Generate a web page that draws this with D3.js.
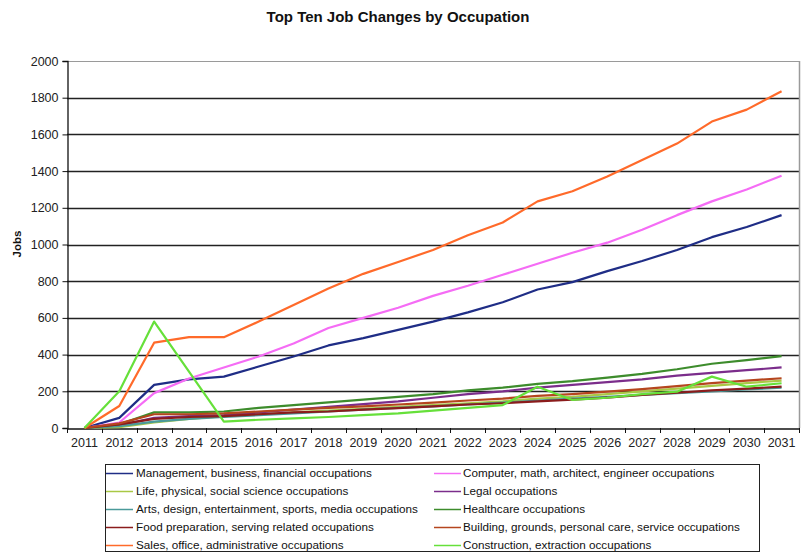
<!DOCTYPE html>
<html><head><meta charset="utf-8">
<script src="https://cdn.jsdelivr.net/npm/d3@7"></script>
<style>body{margin:0;background:#fff;}svg{display:block;font-family:"Liberation Sans",Arial,sans-serif;}</style>
</head><body><svg id="c" width="809" height="554"></svg>
<script>
const years = ["2011","2012","2013","2014","2015","2016","2017","2018","2019","2020","2021","2022","2023","2024","2025","2026","2027","2028","2029","2030","2031"];
const yTicks = [0,200,400,600,800,1000,1200,1400,1600,1800,2000];
const seriesNames = [
  "Management, business, financial occupations",
  "Computer, math, architect, engineer occupations",
  "Life, physical, social science occupations",
  "Legal occupations",
  "Arts, design, entertainment, sports, media occupations",
  "Healthcare occupations",
  "Food preparation, serving related occupations",
  "Building, grounds, personal care, service occupations",
  "Sales, office, administrative occupations",
  "Construction, extraction occupations"
];
const seriesColors = ["#1f2d86","#f56cf5","#a9c845","#7b2d8b","#4a9a9a","#3d8c2c","#8b1c1c","#b5461e","#ff6a2a","#66e03a"];
const management   = [0,55,235,265,280,335,390,450,490,535,580,630,685,755,795,855,910,970,1040,1095,1160];
const computer     = [0,30,190,270,330,390,460,545,600,655,720,775,835,895,955,1010,1080,1160,1235,1300,1375];
const life         = [0,5,30,50,65,75,85,95,105,115,125,135,145,160,170,185,200,215,230,245,258];
const legal        = [0,15,55,65,70,85,100,115,130,145,165,185,200,220,235,250,265,285,300,315,330];
const arts         = [0,10,35,50,60,70,80,90,100,110,118,128,138,150,160,170,180,190,200,210,220];
const healthcare   = [0,20,85,85,90,110,125,140,155,170,185,205,220,240,255,275,295,320,350,370,392];
const food         = [0,20,50,60,65,75,85,90,100,108,118,128,135,145,155,165,180,192,205,215,225];
const building     = [0,25,75,75,80,90,100,110,118,128,138,150,160,175,185,198,212,228,245,258,271];
const sales        = [0,120,465,495,495,580,670,760,840,905,970,1050,1120,1235,1290,1370,1460,1550,1670,1735,1835];
const construction = [0,200,580,307,35,45,52,60,70,80,95,110,125,225,153,165,185,198,280,225,244];
const seriesValues = [management,computer,life,legal,arts,healthcare,food,building,sales,construction];

const svg = d3.select("#c");
const L=67, R=799, T=61, B=428;
const x = d3.scaleBand().domain(years).range([L,R]).padding(0);
const y = d3.scaleLinear().domain([0,2000]).range([B,T]);

// title
svg.append("text").attr("x",398).attr("y",22).attr("text-anchor","middle")
  .attr("font-size",15).attr("font-weight","bold").attr("fill","#111").text("Top Ten Job Changes by Occupation");

// gridlines
svg.append("g").selectAll("line").data(yTicks.filter(d=>d>0&&d<2000)).join("line")
  .attr("x1",L).attr("x2",R).attr("y1",d=>Math.round(y(d))+0.5).attr("y2",d=>Math.round(y(d))+0.5)
  .attr("stroke","#222").attr("stroke-width",1.3);
// top & right border
svg.append("line").attr("x1",L).attr("x2",R).attr("y1",T+0.5).attr("y2",T+0.5).attr("stroke","#9a9a9a");
svg.append("line").attr("x1",R+0.5).attr("x2",R+0.5).attr("y1",T).attr("y2",B).attr("stroke","#9a9a9a").attr("stroke-width",1.5);

// y axis
const ya = svg.append("g").attr("transform",`translate(${L+0.5},0)`)
  .call(d3.axisLeft(y).tickValues(yTicks).tickSize(5).tickPadding(4).tickFormat(d3.format("d")));
ya.select(".domain").attr("stroke","#111").attr("stroke-width",1.3);
ya.selectAll(".tick line").attr("stroke","#111");
ya.selectAll("text").attr("font-size",12.5).attr("fill","#222").attr("font-family","Liberation Sans, Arial, sans-serif");

// x axis
const xa = svg.append("g").attr("transform",`translate(0,${B+0.5})`)
  .call(d3.axisBottom(x).tickSize(0).tickPadding(10));
xa.select(".domain").attr("stroke","#111").attr("stroke-width",1.3);
xa.selectAll("text").attr("font-size",12.5).attr("fill","#222").attr("font-family","Liberation Sans, Arial, sans-serif");
// boundary ticks
const bounds = years.map(d=>x(d)).concat([R]);
svg.append("g").selectAll("line").data(bounds).join("line")
  .attr("x1",d=>Math.round(d)+0.5).attr("x2",d=>Math.round(d)+0.5).attr("y1",B).attr("y2",B+5)
  .attr("stroke","#111");

// y label
svg.append("text").attr("transform","translate(21,244) rotate(-90)").attr("text-anchor","middle")
  .attr("font-size",11.5).attr("font-weight","bold").attr("fill","#111").text("Jobs");

// lines
const line = d3.line().x((d,i)=>x(years[i])+x.bandwidth()/2).y(d=>y(d));
svg.append("g").selectAll("path").data(seriesValues).join("path")
  .attr("d",d=>line(d)).attr("fill","none").attr("stroke",(d,i)=>seriesColors[i])
  .attr("stroke-width",2.2).attr("stroke-linejoin","round");

// legend
const lg = svg.append("g");
lg.append("rect").attr("x",105.5).attr("y",464.5).attr("width",654).attr("height",87)
  .attr("fill","#fff").attr("stroke","#222");
seriesNames.forEach((n,i)=>{
  const col = i%2, row = Math.floor(i/2);
  const lx = col===0?106:434, tx = col===0?136:463, yy = 473+row*18;
  lg.append("line").attr("x1",lx).attr("x2",lx+27).attr("y1",yy+0.5).attr("y2",yy+0.5).attr("stroke",seriesColors[i]).attr("stroke-width",1.5);
  lg.append("text").attr("x",tx).attr("y",yy+4).attr("font-size",11.7).attr("fill","#111").text(n);
});
</script></body></html>
